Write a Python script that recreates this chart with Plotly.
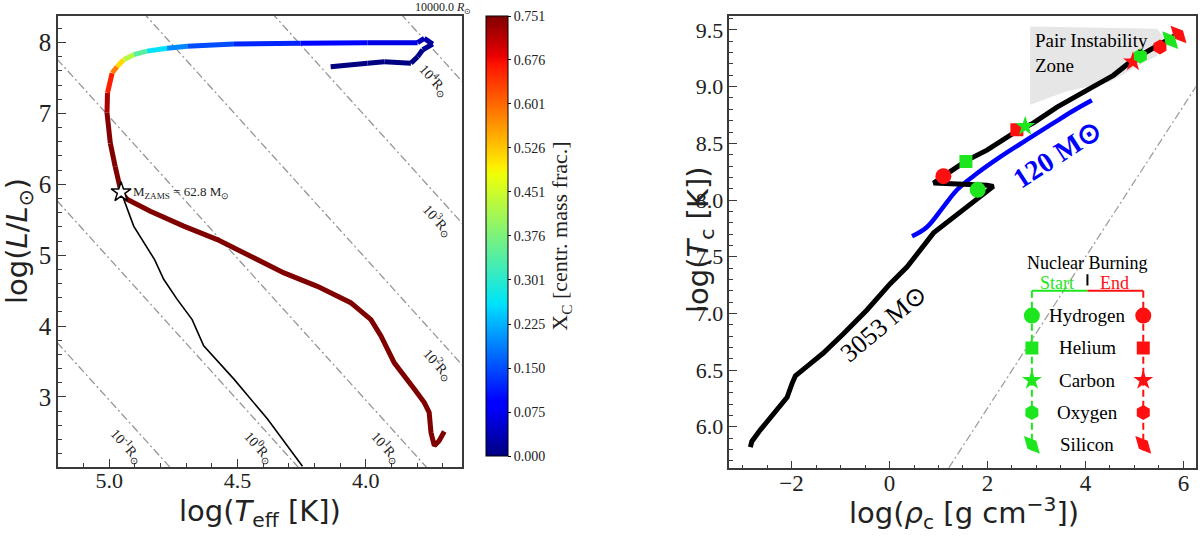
import plotly.graph_objects as go
from plotly.colors import sample_colorscale

# ---------------- Left panel: HR diagram ----------------
# accretion branch (Xc = initial value) from track end up to ZAMS
acc_logT = [3.694, 3.714, 3.733, 3.746, 3.753, 3.772, 3.811, 3.889, 3.941, 3.980,
            4.059, 4.189, 4.319, 4.449, 4.579, 4.710, 4.840, 4.931, 4.954]
acc_logL = [2.51, 2.38, 2.31, 2.50, 2.78, 2.92, 3.11, 3.48, 3.86, 4.09,
            4.33, 4.56, 4.75, 4.99, 5.22, 5.41, 5.62, 5.79, 5.89]
# evolution after ZAMS, coloured by central hydrogen
evo_logT = [4.954, 4.977, 4.996, 5.009, 5.007, 4.989, 4.970, 4.944, 4.905, 4.853,
            4.775, 4.696, 4.514, 4.254, 3.993, 3.798, 3.772, 3.739, 3.778, 3.798,
            3.824, 3.928, 3.993, 4.137]
evo_logL = [5.89, 6.25, 6.58, 7.01, 7.29, 7.57, 7.66, 7.76, 7.83, 7.88,
            7.92, 7.95, 7.98, 7.99, 8.00, 8.00, 8.06, 7.98, 7.90, 7.80,
            7.71, 7.73, 7.71, 7.66]
evo_Xc = [0.751, 0.751, 0.750, 0.745, 0.700, 0.620, 0.550, 0.470, 0.390, 0.300,
          0.220, 0.170, 0.130, 0.110, 0.080, 0.050, 0.030, 0.020, 0.010, 0.005,
          0.002, 0.0, 0.0, 0.0]
acc_Xc = 0.751
# thin black reference track
ref_logT = [4.977, 4.954, 4.905, 4.824, 4.788, 4.736, 4.677, 4.632, 4.514, 4.384, 4.247]
ref_logL = [6.25, 5.89, 5.41, 4.94, 4.66, 4.38, 4.09, 3.72, 3.25, 2.69, 2.02]
zams_logT = [4.954]
zams_logL = [5.89]
zams_mass = 62.8
radius_exp = [-1, 0, 1, 2, 3, 4]
radius_label_logT = [4.931, 4.417, 3.922, 3.720, 3.720, 3.733]
radius_label_logL = [2.31, 2.29, 2.29, 3.46, 5.50, 7.47]
logTsun = 3.7617
cbar_ticks = [0.000, 0.075, 0.150, 0.225, 0.301, 0.376, 0.451, 0.526, 0.601, 0.676, 0.751]

# ---------------- Right panel: rho_c - T_c ----------------
big_rho = [-2.84, -2.81, -2.64, -2.30, -2.09, -1.99, -1.92, -1.69, -1.35, -0.94,
           -0.46, 0.01, 0.36, 0.90, 1.58, 1.85, 2.12, 1.99, 0.90, 1.17,
           1.58, 1.99, 2.53, 2.94, 3.42, 4.16, 4.57, 4.98, 5.52, 5.87]
big_T = [5.82, 5.87, 5.97, 6.15, 6.26, 6.38, 6.45, 6.53, 6.65, 6.82,
         7.03, 7.26, 7.41, 7.71, 7.94, 8.03, 8.12, 8.13, 8.15, 8.23,
         8.35, 8.44, 8.59, 8.68, 8.82, 9.00, 9.10, 9.24, 9.37, 9.46]
m120_rho = [0.46, 0.76, 1.10, 1.38, 1.71, 2.26, 2.80, 3.35, 3.76, 4.13]
m120_T = [7.68, 7.76, 7.94, 8.09, 8.21, 8.38, 8.53, 8.68, 8.79, 8.88]
pisn_rho = [2.87, 5.46, 5.59, 5.46, 5.18, 4.50, 3.62, 2.87]
pisn_T = [9.53, 9.51, 9.44, 9.27, 9.21, 9.04, 8.96, 8.84]
stages = ['Hydrogen', 'Helium', 'Carbon', 'Oxygen', 'Silicon']
start_rho = [1.80, 1.56, 2.77, 5.12, 5.73]
start_T = [8.09, 8.34, 8.65, 9.27, 9.41]
end_rho = [1.10, 2.60, 4.97, 5.52, 5.90]
end_T = [8.21, 8.62, 9.22, 9.35, 9.46]
degen_slope = 2.0 / 3.0
degen_icpt = 4.83

# ---------------- styles ----------------
JET = [[0.0, 'rgb(0,0,128)'], [0.11, 'rgb(0,0,255)'], [0.125, 'rgb(0,0,255)'],
       [0.34, 'rgb(0,219,255)'], [0.35, 'rgb(0,229,247)'], [0.64, 'rgb(239,255,8)'],
       [0.66, 'rgb(255,236,0)'], [0.89, 'rgb(255,19,0)'], [0.91, 'rgb(232,0,0)'],
       [1.0, 'rgb(128,0,0)']]
SERIF = 'Liberation Serif'
SANS = 'DejaVu Sans'
AXC = '#3a3a3a'
GREEN = '#1ee61e'
RED = '#ff1010'
stage_sym = ['circle', 'square', 'star', 'hexagon', 'diamond-tall']
stage_size = [16, 13, 15, 15, 17]
stage_angle = [0, 0, 0, 0, -42]
XMAX = 0.751

fig = go.Figure()

# radius lines
Tgrid = [3.55, 5.3]
for k in radius_exp:
    fig.add_trace(go.Scatter(x=Tgrid, y=[2 * k + 4 * (t - logTsun) for t in Tgrid],
                             mode='lines', line=dict(color='rgb(150,150,150)', width=1.3,
                                                     dash='8px,3px,2px,3px'),
                             xaxis='x', yaxis='y', showlegend=False, hoverinfo='skip'))

# thin black reference track
fig.add_trace(go.Scatter(x=ref_logT, y=ref_logL, mode='lines',
                         line=dict(color='black', width=1.6), xaxis='x', yaxis='y',
                         showlegend=False))

def seg_color(v):
    return sample_colorscale(JET, [max(0.0, min(1.0, v / XMAX))])[0]

# accretion branch
fig.add_trace(go.Scatter(x=acc_logT, y=acc_logL, mode='lines',
                         line=dict(color=seg_color(acc_Xc), width=5),
                         xaxis='x', yaxis='y', showlegend=False))
# coloured evolution segments
for i in range(len(evo_logT) - 1):
    v = 0.5 * (evo_Xc[i] + evo_Xc[i + 1])
    fig.add_trace(go.Scatter(x=evo_logT[i:i + 2], y=evo_logL[i:i + 2], mode='lines',
                             line=dict(color=seg_color(v), width=5),
                             xaxis='x', yaxis='y', showlegend=False, hoverinfo='skip'))

# ZAMS star
fig.add_trace(go.Scatter(x=zams_logT, y=zams_logL, mode='markers',
                         marker=dict(symbol='star', size=15, color='white', opacity=1,
                                     line=dict(color='black', width=1.5)),
                         xaxis='x', yaxis='y', showlegend=False))

# colorbar carrier
fig.add_trace(go.Scatter(x=[None], y=[None], mode='markers', xaxis='x', yaxis='y',
                         showlegend=False,
                         marker=dict(color=[0.0], colorscale=JET, cmin=0, cmax=XMAX,
                                     showscale=True,
                                     colorbar=dict(
                                         x=485.7 / 1200, xanchor='left', xpad=0, ypad=0,
                                         y=1 - 236 / 536, yanchor='middle',
                                         lenmode='pixels', len=440, thickness=22,
                                         outlinecolor='black', outlinewidth=1,
                                         tickvals=cbar_ticks,
                                         ticktext=['%.3f' % t for t in cbar_ticks],
                                         ticks='outside', ticklen=3, tickcolor='black',
                                         tickfont=dict(family=SERIF, size=14, color='#222'),
                                         title=dict(text='X<sub>C</sub> [centr. mass frac.]',
                                                    side='right',
                                                    font=dict(family=SERIF, size=22,
                                                              color='#222'))))))

# ---------------- right panel traces ----------------
fig.add_trace(go.Scatter(x=pisn_rho, y=pisn_T, mode='lines', fill='toself',
                         fillcolor='rgb(230,230,230)', line=dict(width=0),
                         xaxis='x2', yaxis='y2', showlegend=False, hoverinfo='skip'))
Rgrid = [0.5, 6.5]
fig.add_trace(go.Scatter(x=Rgrid, y=[degen_slope * r + degen_icpt for r in Rgrid], mode='lines',
                         line=dict(color='rgb(160,160,160)', width=1.3, dash='8px,3px,2px,3px'),
                         xaxis='x2', yaxis='y2', showlegend=False, hoverinfo='skip'))
fig.add_trace(go.Scatter(x=m120_rho, y=m120_T, mode='lines',
                         line=dict(color='rgb(0,0,255)', width=4.5, shape='spline'),
                         xaxis='x2', yaxis='y2', showlegend=False))
fig.add_trace(go.Scatter(x=big_rho, y=big_T, mode='lines',
                         line=dict(color='black', width=5),
                         xaxis='x2', yaxis='y2', showlegend=False))
fig.add_trace(go.Scatter(x=end_rho, y=end_T, mode='markers',
                         marker=dict(symbol=stage_sym, size=stage_size, angle=stage_angle,
                                     color=RED, opacity=1, line=dict(width=0)),
                         text=stages, xaxis='x2', yaxis='y2', showlegend=False))
fig.add_trace(go.Scatter(x=start_rho, y=start_T, mode='markers',
                         marker=dict(symbol=stage_sym, size=stage_size, angle=stage_angle,
                                     color=GREEN, opacity=1, line=dict(width=0)),
                         text=stages, xaxis='x2', yaxis='y2', showlegend=False))

# ---- inset legend (layout positions) ----
LX_S, LX_E, LX_T = 2.906, 5.18, 4.04
L_TOP, L_STEP = 6.98, 0.285
L_BRACKET = 7.20
rows = [L_TOP - i * L_STEP for i in range(len(stages))]
for xs, col in [(LX_S, GREEN), (LX_E, RED)]:
    fig.add_trace(go.Scatter(x=[xs, xs], y=[L_BRACKET, rows[-1] - 0.05], mode='lines',
                             line=dict(color=col, width=2, dash='7px,4px'),
                             xaxis='x2', yaxis='y2', showlegend=False, hoverinfo='skip'))
    fig.add_trace(go.Scatter(x=[xs, LX_T], y=[L_BRACKET, L_BRACKET], mode='lines',
                             line=dict(color=col, width=2),
                             xaxis='x2', yaxis='y2', showlegend=False, hoverinfo='skip'))
    fig.add_trace(go.Scatter(x=[xs] * len(stages), y=rows, mode='markers',
                             marker=dict(symbol=stage_sym, size=stage_size, angle=stage_angle,
                                         color=col, opacity=1, line=dict(width=0)),
                             xaxis='x2', yaxis='y2', showlegend=False, hoverinfo='skip'))
fig.add_trace(go.Scatter(x=[LX_T, LX_T], y=[7.245, 7.345], mode='lines',
                         line=dict(color='black', width=2),
                         xaxis='x2', yaxis='y2', showlegend=False, hoverinfo='skip'))

ann = []
for name, yv in zip(stages, rows):
    ann.append(dict(x=LX_T, y=yv, xref='x2', yref='y2', text=name, showarrow=False,
                    font=dict(family=SERIF, size=19, color='black')))
ann += [
    dict(x=LX_T, y=7.445, xref='x2', yref='y2', text='Nuclear Burning', showarrow=False,
         font=dict(family=SERIF, size=18, color='black')),
    dict(x=3.42, y=7.265, xref='x2', yref='y2', text='Start', showarrow=False,
         font=dict(family=SERIF, size=18, color=GREEN)),
    dict(x=4.59, y=7.265, xref='x2', yref='y2', text='End', showarrow=False,
         font=dict(family=SERIF, size=18, color=RED)),
    dict(x=2.93, y=9.30, xref='x2', yref='y2', text='Pair Instability<br>Zone', showarrow=False,
         xanchor='left', yanchor='middle', align='left',
         font=dict(family=SERIF, size=19, color='black')),
    dict(x=3.42, y=8.40, xref='x2', yref='y2', text='<b>120 M\u2299</b>', showarrow=False,
         textangle=-33, font=dict(family=SERIF, size=28, color='rgb(0,0,255)')),
    dict(x=-0.12, y=6.91, xref='x2', yref='y2', text='3053 M\u2299', showarrow=False,
         textangle=-40, font=dict(family=SERIF, size=26, color='black')),
]
# left panel annotations
for k, tx, ly in zip(radius_exp, radius_label_logT, radius_label_logL):
    ann.append(dict(x=tx, y=ly, xref='x', yref='y', showarrow=False, textangle=48,
                    text='10<sup>%d</sup>R<sub>\u2299</sub>' % k,
                    font=dict(family=SERIF, size=14, color='#222')))
ann += [
    dict(x=zams_logT[0], y=zams_logL[0], xref='x', yref='y', xanchor='left', xshift=10,
         showarrow=False, text='M<sub>ZAMS</sub> = %.1f M<sub>\u2299</sub>' % zams_mass,
         font=dict(family=SERIF, size=13, color='#222')),
    dict(x=443 / 1200, y=1 - 8 / 536, xref='paper', yref='paper', showarrow=False,
         xanchor='center', yanchor='middle',
         text='10000.0 <i>R</i><sub>\u2299</sub>', font=dict(family=SERIF, size=12, color='#222')),
    # axis titles
    dict(x=260 / 1200, y=1 - 513 / 536, xref='paper', yref='paper', showarrow=False,
         xanchor='center', yanchor='middle',
         text='log(<i>T</i><sub>eff</sub> [K])', font=dict(family=SANS, size=29, color='#222')),
    dict(x=19 / 1200, y=1 - 241 / 536, xref='paper', yref='paper', showarrow=False,
         xanchor='center', yanchor='middle',
         textangle=-90, text='log(<i>L</i>/<i>L</i><sub>\u2299</sub>)',
         font=dict(family=SANS, size=29, color='#222')),
    dict(x=964 / 1200, y=1 - 513 / 536, xref='paper', yref='paper', showarrow=False,
         xanchor='center', yanchor='middle',
         text='log(<i>\u03c1</i><sub>c</sub> [g cm<sup>\u22123</sup>])',
         font=dict(family=SANS, size=29, color='#222')),
    dict(x=700 / 1200, y=1 - 240 / 536, xref='paper', yref='paper', showarrow=False,
         xanchor='center', yanchor='middle',
         textangle=-90, text='log(<i>T</i><sub>c</sub> [K])',
         font=dict(family=SANS, size=29, color='#222')),
]

axis_common = dict(showline=True, linecolor=AXC, linewidth=1.5, mirror=True,
                   ticks='inside', ticklen=8, tickwidth=1.3, tickcolor=AXC,
                   showgrid=False, zeroline=False)

fig.update_layout(
    width=1200, height=536, margin=dict(l=0, r=0, t=0, b=0),
    paper_bgcolor='white', plot_bgcolor='white', showlegend=False,
    xaxis=dict(domain=[58 / 1200, 462 / 1200], range=[5.2, 3.625], anchor='y',
               tick0=0, dtick=0.5, tickformat='.1f', ticklabelstandoff=-7,
               tickfont=dict(family=SERIF, size=22, color='#222'),
               minor=dict(dtick=0.1, tick0=0, ticks='inside', ticklen=4, tickcolor=AXC),
               **axis_common),
    yaxis=dict(domain=[1 - 467 / 536, 1 - 16 / 536], range=[2.01, 8.376], anchor='x',
               tick0=0, dtick=1,
               tickfont=dict(family=SERIF, size=25, color='#222'),
               minor=dict(dtick=0.2, tick0=0, ticks='inside', ticklen=4, tickcolor=AXC),
               **axis_common),
    xaxis2=dict(domain=[729.3 / 1200, 1195.7 / 1200], range=[-3.27, 6.25], anchor='y2',
                tick0=0, dtick=2, tickformat='d', ticklabelstandoff=-7,
                tickfont=dict(family=SERIF, size=23, color='#222'),
                minor=dict(dtick=0.5, tick0=0, ticks='inside', ticklen=4, tickcolor=AXC),
                **axis_common),
    yaxis2=dict(domain=[1 - 468.3 / 536, 1 - 15.7 / 536], range=[5.633, 9.626], anchor='x2',
                tick0=0, dtick=0.5, tickformat='.1f',
                tickfont=dict(family=SERIF, size=22, color='#222'),
                minor=dict(dtick=0.1, tick0=0, ticks='inside', ticklen=4, tickcolor=AXC),
                **axis_common),
    annotations=ann,
)

fig.write_html('out.html', config={'displayModeBar': False},
               post_script="document.body.style.margin='0px';")
